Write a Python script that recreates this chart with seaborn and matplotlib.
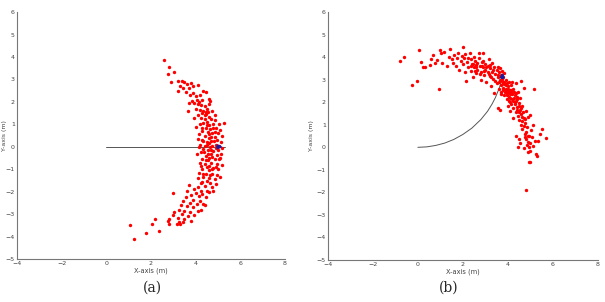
import matplotlib
matplotlib.use("Agg")
import matplotlib.pyplot as plt
import seaborn as sns
import pandas as pd

# ---------------- data ----------------
pts_a = [
    (2.6, 3.85), (2.8, 3.55), (2.75, 3.25), (3.05, 3.35), (2.9, 2.9), (3.2, 2.95), (3.4, 2.95),
    (3.5, 2.9), (3.3, 2.7), (3.6, 2.8), (3.8, 2.85), (3.45, 2.6), (3.7, 2.6), (3.9, 2.7),
    (4.1, 2.75), (3.2, 2.5), (3.55, 2.45), (3.9, 2.4), (4.35, 2.5), (4.45, 2.45), (3.75, 2.3),
    (4.0, 2.25), (4.2, 2.3), (4.05, 2.1), (3.85, 2.05), (4.15, 2.0), (4.3, 2.1), (4.6, 2.15),
    (4.65, 2.05), (3.95, 1.95), (4.1, 1.9), (4.25, 1.85), (4.4, 1.8), (3.7, 1.95), (3.65, 1.6),
    (4.0, 1.7), (4.2, 1.65), (4.35, 1.6), (4.5, 1.7), (4.55, 1.55), (4.75, 1.6), (4.3, 1.5),
    (4.45, 1.45), (4.1, 1.4), (3.95, 1.3), (4.6, 1.35), (4.25, 1.3), (4.4, 1.25), (4.7, 1.25),
    (4.85, 1.2), (4.5, 1.1), (4.35, 1.05), (4.2, 1.0), (4.6, 0.95), (4.8, 1.0), (5.05, 1.0),
    (5.25, 1.05), (4.0, 0.9), (4.45, 0.85), (4.65, 0.8), (4.9, 0.85), (5.1, 0.75), (4.3, 0.7),
    (4.55, 0.65), (4.75, 0.6), (5.0, 0.6), (4.15, 0.55), (4.4, 0.5), (4.85, 0.45), (5.2, 0.5),
    (4.6, 0.4), (4.95, 0.3), (4.7, 0.25), (4.3, 0.3), (4.5, 0.2), (5.15, 0.2), (4.1, 0.35),
    (4.85, 1.4), (4.75, 0.05), (4.2, 0.1), (4.4, 0.05), (4.6, 0.15), (4.9, 0.1), (5.05, 0.05),
    (5.2, -0.05), (4.35, -0.1), (4.55, -0.15), (4.8, -0.2), (5.0, -0.15), (4.25, -0.25),
    (4.7, -0.3), (4.95, -0.35), (5.15, -0.3), (4.45, -0.4), (4.6, -0.5), (4.85, -0.55),
    (5.1, -0.5), (4.3, -0.55), (4.05, -0.3), (4.15, 0.0), (4.65, 0.0), (4.2, -0.7), (4.4, -0.75),
    (4.7, -0.7), (4.95, -0.75), (5.2, -0.8), (4.5, -0.9), (4.8, -0.95), (4.3, -1.0), (4.6, -1.05),
    (5.0, -1.0), (4.15, -1.15), (4.45, -1.2), (4.75, -1.2), (4.95, -1.25), (4.35, -1.35),
    (4.6, -1.4), (4.85, -1.45), (4.1, -1.4), (5.1, -1.35), (4.55, -0.6), (4.25, -0.85),
    (4.3, -1.55), (4.65, -1.6), (4.9, -1.65), (3.7, -1.7), (4.4, -1.75), (4.75, -1.8), (4.1, -1.8),
    (3.95, -1.9), (4.25, -1.95), (4.5, -1.95), (3.6, -1.95), (4.0, -2.05), (4.3, -2.1), (3.8, -2.15),
    (4.15, -2.2), (4.45, -2.25), (3.55, -2.25), (3.9, -2.35), (4.2, -2.4), (3.45, -2.4), (3.75, -2.5),
    (4.05, -2.55), (4.35, -2.55), (3.0, -2.05), (4.6, -2.0), (4.8, -1.95), (3.35, -2.6), (3.6, -2.65),
    (3.9, -2.7), (4.25, -2.8), (4.1, -2.85), (3.25, -2.8), (3.5, -2.85), (3.75, -2.9), (3.05, -2.9),
    (3.4, -3.0), (3.65, -3.1), (3.0, -3.05), (3.2, -3.15), (3.5, -3.2), (3.8, -3.3), (2.8, -3.2),
    (3.25, -3.35), (3.45, -3.35), (3.15, -3.45), (2.8, -3.45), (3.3, -3.45), (4.4, -2.6), (3.95, -3.05),
    (1.05, -3.5), (1.25, -4.1), (1.8, -3.85), (2.2, -3.2), (2.35, -3.75), (2.05, -3.45), (2.75, -3.3),
    (4.5, 0.95), (4.7, 0.45), (4.35, 0.25), (4.55, -0.3), (4.75, -0.45), (4.45, -0.6), (4.9, -0.9),
    (4.65, -1.25), (4.4, 1.4), (4.6, 1.9), (4.85, 0.65), (5.05, -0.55), (4.25, -1.6), (4.5, -1.5),
    (4.62, 0.55), (4.52, 0.1), (4.82, 0.25), (4.38, -0.25), (4.68, -0.15), (4.92, -0.05),
    (4.58, -0.85), (4.32, -1.2), (4.72, -1.0), (4.48, 1.55), (4.28, 0.85), (4.78, 0.85),
]

pts_b = [
    (-0.8, 3.82), (-0.6, 4.02), (-0.25, 2.78), (-0.03, 2.95), (0.05, 4.32), (0.15, 3.8), (0.22, 3.55),
    (0.3, 3.56), (0.53, 3.65), (0.58, 3.93), (0.68, 4.08), (0.75, 3.75), (0.85, 3.88), (0.95, 2.6),
    (0.98, 4.3), (1.05, 4.17), (1.15, 4.25), (1.08, 3.75), (1.28, 3.62), (1.37, 4.02), (1.45, 4.35),
    (1.5, 3.9), (1.55, 3.75), (1.6, 4.1), (1.7, 3.6), (1.75, 3.95), (1.8, 4.2), (1.85, 3.45),
    (1.9, 3.85), (1.95, 4.05), (2.0, 4.45), (2.0, 3.7), (2.05, 3.95), (2.1, 3.35), (2.1, 4.15),
    (2.15, 2.95), (2.2, 3.8), (2.25, 3.55), (2.3, 4.2), (2.35, 3.4), (2.35, 3.9), (2.4, 3.7),
    (2.45, 3.1), (2.5, 3.55), (2.5, 4.0), (2.55, 3.85), (2.6, 3.3), (2.6, 3.65), (2.65, 3.45),
    (2.7, 3.95), (2.7, 4.2), (2.75, 3.6), (2.8, 3.0), (2.8, 3.35), (2.85, 3.8), (2.9, 4.2),
    (2.9, 3.55), (2.95, 3.2), (3.0, 3.45), (3.0, 3.7), (3.05, 2.9), (3.1, 3.6), (3.1, 3.35),
    (3.15, 3.9), (3.2, 3.15), (3.2, 3.5), (3.25, 2.7), (3.3, 3.35), (3.3, 3.75), (3.35, 3.05),
    (3.4, 3.55), (3.4, 2.4), (3.45, 3.25), (3.5, 2.85), (3.5, 3.45), (3.55, 3.1), (3.6, 3.35),
    (3.6, 2.6), (3.65, 3.0), (3.65, 1.65), (3.7, 3.2), (3.7, 2.75), (3.75, 2.95), (3.75, 3.4),
    (3.8, 2.55), (3.8, 3.1), (3.85, 2.8), (3.85, 2.3), (3.9, 2.6), (3.9, 3.0), (3.95, 2.4),
    (3.95, 2.15), (4.0, 2.7), (4.0, 2.5), (4.05, 2.9), (4.05, 2.25), (4.1, 2.55), (4.1, 2.0),
    (4.1, 2.35), (4.15, 2.75), (4.15, 1.9), (4.2, 2.45), (4.2, 2.15), (4.25, 2.6), (4.25, 1.75),
    (4.3, 2.3), (4.3, 2.0), (4.35, 2.85), (4.35, 1.55), (4.4, 2.15), (4.4, 1.8), (4.45, 2.45),
    (4.45, 1.4), (4.5, 1.95), (4.5, 1.2), (4.55, 1.65), (4.55, 2.2), (4.6, 1.0), (4.6, 1.5),
    (4.65, 0.8), (4.65, 1.85), (4.7, 1.3), (4.7, 2.65), (4.75, 0.6), (4.75, 1.1), (4.8, 1.6),
    (4.8, 0.35), (4.85, 0.9), (4.85, 0.1), (4.9, 1.35), (4.9, -0.2), (4.95, 0.5), (4.95, -0.65),
    (5.0, 1.45), (5.0, 0.2), (5.0, -0.65), (5.05, 0.75), (5.1, 1.0), (5.15, 2.6), (5.2, 0.3),
    (5.25, -0.3), (5.3, -0.4), (5.35, 0.3), (5.45, 0.6), (5.5, 0.8), (5.7, 0.4), (4.8, -1.9),
    (4.45, 0.0), (4.35, 0.5), (4.5, 0.35), (4.25, 1.3), (4.1, 1.6), (4.0, 1.85), (3.55, 1.75),
    (4.6, 2.95), (4.2, 2.9), (4.55, 0.2), (4.7, -0.05), (5.1, 0.05),
    (3.62, 2.9), (3.68, 2.45), (3.72, 3.05), (3.78, 2.65), (3.82, 2.9), (3.88, 2.45), (3.92, 2.75),
    (3.98, 2.3), (4.02, 2.6), (4.08, 2.45), (4.12, 2.2), (4.18, 2.35), (4.22, 2.05), (4.28, 2.2),
    (4.32, 1.9), (4.38, 2.05), (4.42, 1.65), (4.48, 1.85), (4.52, 1.55), (4.58, 1.75), (4.62, 1.35),
    (4.68, 1.55), (4.72, 0.95), (4.78, 1.25), (4.82, 0.7), (4.88, 0.5), (4.92, 0.25), (4.98, -0.15),
    (3.35, 3.45), (3.25, 3.1), (3.15, 3.25), (3.05, 3.55), (2.95, 3.4), (2.85, 3.6), (2.75, 3.25),
    (2.65, 3.75), (2.55, 3.4), (2.45, 3.7), (2.35, 3.6), (2.25, 3.95), (3.45, 2.95), (3.55, 3.55),
    (3.65, 3.5), (3.85, 3.3), (3.7, 2.35), (3.95, 2.85), (4.15, 2.55), (4.35, 2.4), (4.05, 2.05),
    (3.58, 3.2), (3.78, 2.85), (3.92, 2.55), (4.12, 2.4), (4.28, 2.45), (4.42, 2.25), (2.9, 3.85),
    (3.2, 3.65), (2.6, 3.55), (4.62, 1.15), (4.78, 0.45), (5.08, 0.45), (4.95, 0.0),
]

# robot trajectories
traj_a_x = [0.0, 5.3]
traj_a_y = [0.0, 0.0]
traj_b_x = [0.0, 0.4, 0.8, 1.2, 1.6, 2.0, 2.4, 2.8, 3.1, 3.3, 3.45, 3.58, 3.68, 3.74]
traj_b_y = [0.0, 0.02, 0.085, 0.19, 0.35, 0.57, 0.85, 1.23, 1.6, 1.92, 2.21, 2.53, 2.8, 3.13]

# estimated pose arrows: (x_start, y_start, x_end, y_end)
pose_a = (4.85, 0.0, 5.35, 0.0)
pose_b = (3.74, 2.95, 3.78, 3.45)

x_ticks = [-4, -2, 0, 2, 4, 6, 8]
y_ticks = [-5, -4, -3, -2, -1, 0, 1, 2, 3, 4, 5, 6]
captions = ["(a)", "(b)"]

# ---------------- plotting ----------------
sns.set_style("white")
plt.rcParams["font.family"] = ["DejaVu Sans"]

fig = plt.figure(figsize=(6.05, 3.02), dpi=100)
ax_a = fig.add_axes([0.028, 0.142, 0.443, 0.818])
ax_b = fig.add_axes([0.542, 0.139, 0.446, 0.821])

panels = [
    (ax_a, pts_a, traj_a_x, traj_a_y, pose_a, -0.036),
    (ax_b, pts_b, traj_b_x, traj_b_y, pose_b, -0.052),
]

for ax, pts, tx, ty, pose, ylab_x in panels:
    df = pd.DataFrame(pts, columns=["x", "y"])
    sns.lineplot(x=tx, y=ty, ax=ax, color="#555555", linewidth=0.7, sort=False,
                 estimator=None)
    sns.scatterplot(data=df, x="x", y="y", ax=ax, color="red", s=6, linewidth=0,
                    zorder=3)
    ax.annotate("", xy=(pose[2], pose[3]), xytext=(pose[0], pose[1]),
                arrowprops=dict(arrowstyle="-|>", color="#1a1a9a", lw=1.6,
                                mutation_scale=5), zorder=5)
    ax.set_xlim(-4, 8)
    ax.set_ylim(-5, 6)
    ax.set_xticks(x_ticks)
    ax.set_yticks(y_ticks)
    ax.tick_params(direction="in", length=2, width=0.5, labelsize=4.5,
                   labelcolor="#444444", color="#666666", pad=1.5)
    for side in ["top", "right"]:
        ax.spines[side].set_visible(False)
    for side in ["left", "bottom"]:
        ax.spines[side].set_color("#777777")
        ax.spines[side].set_linewidth(0.8)
    ax.set_xlabel("X-axis (m)", fontsize=4.8, color="#444444", labelpad=1)
    ax.set_ylabel("Y-axis (m)", fontsize=4.5, color="#444444")
    ax.yaxis.set_label_coords(ylab_x, 0.5)

fig.text(0.252, 0.025, captions[0], fontsize=10, family="DejaVu Serif",
         ha="center", va="bottom")
fig.text(0.742, 0.025, captions[1], fontsize=10, family="DejaVu Serif",
         ha="center", va="bottom")

fig.savefig("out.png", dpi=100)
